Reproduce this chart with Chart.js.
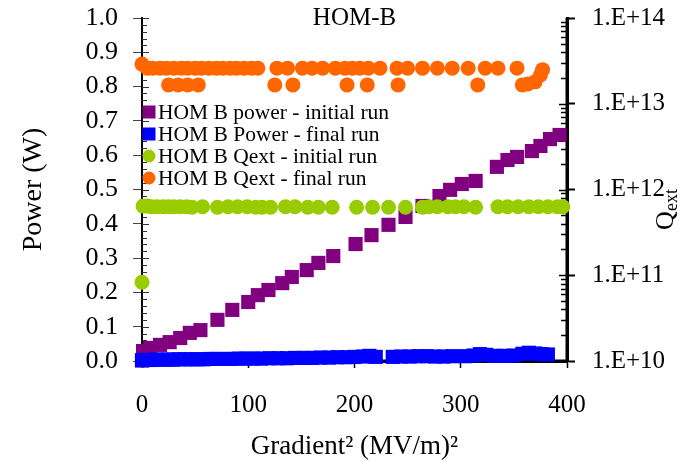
<!DOCTYPE html>
<html><head><meta charset="utf-8">
<script src="https://cdn.jsdelivr.net/npm/chart.js@4/dist/chart.umd.min.js"></script>
<style>html,body{margin:0;padding:0;background:#fff;} canvas{display:block;}</style>
</head><body>
<canvas id="c" width="693" height="461"></canvas>
<script>
const FONT = 'Liberation Serif';

const chartTitle = 'HOM-B';
const seriesLabels = ['HOM B power - initial run','HOM B Power - final run','HOM B Qext - initial run','HOM B Qext - final run'];

const xTicks = [0,100,200,300,400];
const powerTicks = [0,0.1,0.2,0.3,0.4,0.5,0.6,0.7,0.8,0.9,1.0];
const powerTickLabels = ['0.0','0.1','0.2','0.3','0.4','0.5','0.6','0.7','0.8','0.9','1.0'];
const qTicks = [1e10,1e11,1e12,1e13,1e14];
const qTickLabels = ['1.E+10','1.E+11','1.E+12','1.E+13','1.E+14'];

// HOM B power - initial run
const pInitX = [0,1,7.5,17,26,36,45,55,71,85,100,109,119,132,141,155,166,180,201,216,232,248,264,280,290,301,314,334,344,353,367,375,384,393];
const pInitY = [0.002,0.029,0.038,0.047,0.055,0.067,0.082,0.090,0.120,0.149,0.172,0.192,0.207,0.227,0.245,0.265,0.286,0.306,0.341,0.367,0.397,0.420,0.452,0.481,0.499,0.516,0.525,0.566,0.586,0.595,0.612,0.627,0.647,0.659];

// HOM B Power - final run
const pFinX = [0,3,6,10,14,19,24,29,34,40,46,52,58,64,70,77,84,91,98,105,112,120,128,136,144,152,160,168,176,184,192,200,208,214,220,236,244,252,260,268,276,284,292,304,312,318,324,332,340,350,358,364,370,376,382];
const pFinY = [0.002,0.003,0.003,0.003,0.004,0.004,0.004,0.004,0.005,0.005,0.005,0.005,0.005,0.006,0.006,0.006,0.006,0.007,0.007,0.007,0.007,0.008,0.008,0.008,0.009,0.009,0.009,0.010,0.010,0.011,0.011,0.012,0.013,0.015,0.012,0.012,0.013,0.013,0.014,0.014,0.013,0.013,0.014,0.014,0.016,0.020,0.018,0.015,0.015,0.016,0.021,0.024,0.022,0.020,0.019];

// HOM B Qext - initial run
const qInitX = [0,1,5,9,14,20,25,30,36,42,47,57,71,81,90,99,107,113,121,135,144,156,166,179,202,217,232,248,264,270,278,288,295,303,314,335,344,354,364,373,382,391,396];
const qInitY = [8.3e10,6.4e11,6.4e11,6.3e11,6.3e11,6.3e11,6.3e11,6.3e11,6.3e11,6.3e11,6.2e11,6.3e11,6.2e11,6.3e11,6.3e11,6.3e11,6.2e11,6.2e11,6.2e11,6.3e11,6.3e11,6.2e11,6.2e11,6.2e11,6.2e11,6.2e11,6.2e11,6.2e11,6.2e11,6.3e11,6.3e11,6.3e11,6.3e11,6.3e11,6.2e11,6.3e11,6.3e11,6.3e11,6.3e11,6.3e11,6.3e11,6.3e11,6.3e11];

// HOM B Qext - final run
const qFinX = [0,5,10,17,23,25,30,34,37,43,43,50,53,56,63,70,76,83,89,96,103,109,125,127,137,142,151,160,170,182,191,193,198,205,212,213,224,240,241,250,264,278,292,307,316,323,335,353,358,363,370,375,377];
const qFinY = [2.9e13,2.6e13,2.6e13,2.6e13,2.6e13,1.66e13,2.6e13,1.66e13,2.6e13,2.6e13,
               1.66e13,2.6e13,1.66e13,2.6e13,2.6e13,2.6e13,2.6e13,2.6e13,2.6e13,2.6e13,
               2.6e13,2.6e13,1.66e13,2.6e13,2.6e13,1.66e13,2.6e13,2.6e13,2.6e13,2.6e13,
               2.6e13,1.66e13,2.6e13,2.6e13,1.66e13,2.6e13,2.6e13,2.6e13,1.66e13,2.6e13,
               2.6e13,2.6e13,2.6e13,2.6e13,1.66e13,2.6e13,2.6e13,2.6e13,1.66e13,1.7e13,
               1.8e13,2.16e13,2.5e13];

const toPts = (xs, ys) => xs.map((x, i) => ({x: x, y: ys[i]}));

const noOverflow = (s) => { s.paddingTop = 0; s.paddingBottom = 0; s.paddingLeft = 0; s.paddingRight = 0; };

const axisDecor = {
  id: 'axisDecor',
  beforeDatasetsDraw(chart) {
    const {ctx, scales, chartArea} = chart;
    const y = scales.y, y2 = scales.y2;
    ctx.save();
    // axis lines
    ctx.strokeStyle = '#000';
    ctx.lineWidth = 2;
    ctx.beginPath(); ctx.moveTo(chartArea.left, chartArea.top); ctx.lineTo(chartArea.left, chartArea.bottom); ctx.stroke();
    ctx.lineWidth = 3;
    ctx.beginPath(); ctx.moveTo(chartArea.left - 1, chartArea.bottom); ctx.lineTo(chartArea.right, chartArea.bottom); ctx.stroke();
    ctx.beginPath(); ctx.moveTo(chartArea.right, chartArea.top); ctx.lineTo(chartArea.right, chartArea.bottom + 1.5); ctx.stroke();
    // minor ticks
    ctx.strokeStyle = '#333';
    ctx.lineWidth = 1;
    const xl = chartArea.left;
    for (let k = 0; k <= 50; k++) {
      const py = Math.round(y.getPixelForValue(k / 50)) + 0.5;
      ctx.beginPath(); ctx.moveTo(xl, py); ctx.lineTo(xl + (k % 5 === 0 ? 7 : 5), py); ctx.stroke();
    }
    ctx.strokeStyle = '#000';
    ctx.lineWidth = 1.5;
    const xr = chartArea.right;
    for (let d = 10; d < 14; d++) {
      for (let m = 1; m < 10; m++) {
        const py = Math.round(y2.getPixelForValue(m * Math.pow(10, d))) + 0.5;
        ctx.beginPath(); ctx.moveTo(xr, py); ctx.lineTo(xr - (m === 1 ? 8 : 6), py); ctx.stroke();
      }
    }
    ctx.restore();
  }
};

const insideLegend = {
  id: 'insideLegend',
  afterDatasetsDraw(chart) {
    const {ctx, chartArea} = chart;
    ctx.save();
    ctx.font = '21.5px "' + FONT + '"';
    ctx.textBaseline = 'middle';
    chart.data.datasets.forEach((ds, i) => {
      const cy = chartArea.top + 94 + i * 22;
      const cx = chartArea.left + 7;
      ctx.fillStyle = ds.backgroundColor;
      if (ds.pointStyle === 'rect') {
        ctx.fillRect(cx - 6.5, cy - 6.5, 13, 13);
      } else {
        ctx.beginPath(); ctx.arc(cx, cy, 6.5, 0, 2 * Math.PI); ctx.fill();
      }
      ctx.fillStyle = '#000';
      ctx.textAlign = 'left';
      ctx.fillText(ds.label, chartArea.left + 16, cy + 1);
    });
    ctx.restore();
  }
};

const qextTitle = {
  id: 'qextTitle',
  afterDraw(chart) {
    const {ctx, chartArea} = chart;
    const cy = (chartArea.top + chartArea.bottom) / 2 + 20;
    ctx.save();
    ctx.translate(673, cy);
    ctx.rotate(-Math.PI / 2);
    ctx.fillStyle = '#000';
    ctx.textBaseline = 'alphabetic';
    ctx.textAlign = 'left';
    ctx.font = '26px "' + FONT + '"';
    const wq = ctx.measureText('Q').width;
    ctx.font = '18px "' + FONT + '"';
    const we = ctx.measureText('ext').width;
    const x0 = -(wq + we) / 2;
    ctx.font = '26px "' + FONT + '"';
    ctx.fillText('Q', x0, 0);
    ctx.font = '18px "' + FONT + '"';
    ctx.fillText('ext', x0 + wq, 4);
    ctx.restore();
  }
};

new Chart(document.getElementById('c'), {
  type: 'scatter',
  data: {
    datasets: [
      {label: seriesLabels[0], data: toPts(pInitX, pInitY), yAxisID: 'y', pointStyle: 'rect', pointRadius: 10,
       backgroundColor: '#800080', pointBackgroundColor: '#800080', pointBorderWidth: 0, borderWidth: 0, order: 4, clip: false},
      {label: seriesLabels[1], data: toPts(pFinX, pFinY), yAxisID: 'y', pointStyle: 'rect', pointRadius: 10,
       backgroundColor: '#0000FF', pointBackgroundColor: '#0000FF', pointBorderWidth: 0, borderWidth: 0, order: 3, clip: false},
      {label: seriesLabels[2], data: toPts(qInitX, qInitY), yAxisID: 'y2', pointStyle: 'circle', pointRadius: 7.5,
       backgroundColor: '#99CC00', pointBackgroundColor: '#99CC00', pointBorderWidth: 0, borderWidth: 0, order: 2, clip: false},
      {label: seriesLabels[3], data: toPts(qFinX, qFinY), yAxisID: 'y2', pointStyle: 'circle', pointRadius: 7.5,
       backgroundColor: '#FF6600', pointBackgroundColor: '#FF6600', pointBorderWidth: 0, borderWidth: 0, order: 1, clip: false}
    ]
  },
  options: {
    responsive: false,
    animation: false,
    devicePixelRatio: 1,
    events: [],
    layout: {padding: {top: 18, left: 0, right: 0, bottom: 0}},
    plugins: {
      legend: {display: false},
      tooltip: {enabled: false},
      title: {display: true, text: chartTitle, color: '#000', fullSize: false,
              font: {family: FONT, size: 25, weight: 'normal'}, padding: {top: -15, bottom: -15}}
    },
    scales: {
      x: {
        type: 'linear', position: 'bottom', min: 0, max: 400,
        afterFit(s) { s.height = 100; noOverflow(s); },
        afterBuildTicks(s) { s.ticks = xTicks.map(v => ({value: v})); },
        ticks: {color: '#000', font: {family: FONT, size: 25}, padding: 22, maxRotation: 0, autoSkip: false, callback: (v, i) => String(xTicks[i])},
        grid: {drawOnChartArea: false, tickLength: 7, tickColor: '#000', tickWidth: 1.5},
        border: {color: '#000', width: 3},
        title: {display: true, text: 'Gradient² (MV/m)²', color: '#000', font: {family: FONT, size: 27}, padding: {top: 0, bottom: -2}}
      },
      y: {
        type: 'linear', position: 'left', min: 0, max: 1,
        afterFit(s) { s.width = 142; noOverflow(s); },
        afterBuildTicks(s) { s.ticks = powerTicks.map(v => ({value: v})); },
        ticks: {color: '#000', font: {family: FONT, size: 26}, padding: 15, autoSkip: false, callback: (v, i) => powerTickLabels[i]},
        grid: {drawOnChartArea: false, tickLength: 9, tickColor: '#444', tickWidth: 1},
        border: {color: '#000', width: 2},
        title: {display: true, text: 'Power (W)', color: '#000', font: {family: FONT, size: 28}, padding: {top: 17, bottom: 0}}
      },
      y2: {
        type: 'logarithmic', position: 'right', min: 1e10, max: 1e14,
        afterFit(s) { s.width = 126; noOverflow(s); },
        afterBuildTicks(s) { s.ticks = qTicks.map(v => ({value: v})); },
        ticks: {color: '#000', font: {family: FONT, size: 25}, padding: 17, autoSkip: false, callback: (v, i) => qTickLabels[i]},
        grid: {drawOnChartArea: false, tickLength: 8, tickColor: '#000', tickWidth: 2},
        border: {color: '#000', width: 3}
      }
    }
  },
  plugins: [axisDecor, insideLegend, qextTitle]
});
</script>
</body></html>
